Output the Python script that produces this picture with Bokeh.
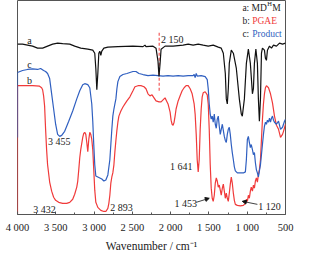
from bokeh.plotting import figure
from bokeh.models import Range1d, FixedTicker, Label, Arrow, NormalHead
from bokeh.embed import file_html
from bokeh.resources import INLINE

# ---- data (wavenumber cm^-1, transmittance a.u.) ----
wn_a = [4000, 3934, 3869, 3803, 3738, 3672, 3607, 3541, 3476, 3410, 3318, 3253, 3174, 3082, 3017,
        2991, 2977, 2964, 2951, 2938, 2925, 2912, 2899, 2872, 2820, 2689, 2492, 2361, 2335, 2322,
        2230, 2191, 2165, 2152, 2138, 2125, 2073, 1968, 1837, 1771, 1706, 1640, 1575, 1509, 1444,
        1378, 1339, 1312, 1286, 1273, 1260, 1247, 1234, 1208, 1181, 1142, 1103, 1077, 1064, 1037,
        1011, 985, 959, 932, 919, 906, 887, 867, 854, 841, 827, 814, 801, 775, 762, 749, 736, 709,
        683, 657, 618, 578, 539, 500]
t_a = [168, 168, 167, 166, 164, 164, 166, 168, 169, 168.5, 168, 166, 164, 163, 162,
       159, 144, 123, 139, 159, 161, 157, 161, 164, 165, 165.5, 166, 165.5, 167, 165.5,
       166, 164, 151, 136, 149, 163, 166, 166, 167, 168, 167, 168, 167, 166, 167,
       165, 164, 159, 139, 114, 109, 124, 149, 162, 159, 144, 114, 99, 97, 114,
       149, 163, 149, 119, 124, 149, 163, 149, 114, 92, 114, 159, 164, 162, 154, 152, 162, 166,
       164, 167, 166, 169, 168, 169]

wn_b = [4000, 4000, 3934, 3803, 3712, 3685, 3672, 3659, 3646, 3633, 3620, 3607, 3580, 3554, 3528,
        3502, 3462, 3410, 3358, 3318, 3279, 3253, 3226, 3213, 3200, 3187, 3174, 3148, 3135, 3122,
        3108, 3095, 3082, 3069, 3056, 3043, 3030, 3017, 3004, 2991, 2977, 2951, 2912, 2872, 2846,
        2820, 2807, 2794, 2781, 2768, 2755, 2741, 2728, 2715, 2702, 2689, 2676, 2650, 2623, 2597,
        2571, 2532, 2492, 2466, 2427, 2388, 2348, 2322, 2296, 2270, 2243, 2217, 2191, 2152, 2125,
        2099, 2073, 2047, 2034, 2007, 1994, 1981, 1968, 1955, 1942, 1929, 1902, 1876, 1850, 1824,
        1798, 1771, 1745, 1719, 1693, 1680, 1666, 1653, 1640, 1627, 1614, 1601, 1588, 1575, 1549,
        1522, 1509, 1496, 1483, 1470, 1457, 1444, 1430, 1417, 1404, 1391, 1378, 1365, 1352, 1339,
        1325, 1312, 1299, 1286, 1273, 1260, 1247, 1234, 1221, 1208, 1195, 1181, 1168, 1155, 1129,
        1090, 1050, 1024, 1011, 998, 985, 972, 959, 947, 932, 919, 906, 893, 880, 867,
        854, 841, 827, 814, 801, 788, 775, 762, 749, 722, 696, 670, 644, 618, 591,
        565, 539, 526, 500]
t_b = [0, 127, 127, 127, 126.5, 125, 123, 117, 107, 84, 64, 49, 32, 23, 17,
       14, 12, 11, 11, 12, 15, 20, 27, 33, 44, 56, 64, 76, 80, 81,
       79, 71, 62, 74, 81, 79, 74, 64, 44, 24, 12, 7, 4, 3, 3,
       6, 11, 19, 31, 37, 41, 49, 62, 73, 83, 91, 97, 102, 106, 109,
       112, 116, 122, 126, 127, 127, 126, 124, 119, 117, 118, 115, 112, 111, 111,
       113, 115, 111, 109, 101, 93, 89, 88, 91, 97, 104, 112, 117, 122, 125,
       127, 127, 124, 119, 109, 99, 79, 54, 42, 54, 84, 104, 116, 120, 121,
       118, 109, 84, 49, 26, 16, 13, 19, 31, 36, 33, 27, 29, 24, 19,
       26, 30, 23, 16, 21, 16, 13, 21, 30, 37, 31, 21, 14, 10, 9,
       8.5, 9, 11, 15, 13, 19, 16, 23, 27, 23, 29, 26, 33, 36, 32,
       39, 44, 54, 74, 94, 109, 119, 125, 127, 125, 119, 110, 97, 88, 84,
       76, 79, 82, 89]

wn_c = [4000, 4000, 3934, 3869, 3803, 3738, 3698, 3659, 3633, 3607, 3580, 3554, 3528, 3502, 3476,
        3449, 3423, 3384, 3331, 3279, 3226, 3187, 3148, 3122, 3082, 3056, 3030, 3017, 3004, 2991,
        2977, 2951, 2925, 2899, 2872, 2846, 2820, 2794, 2781, 2768, 2755, 2741, 2728, 2715, 2702,
        2689, 2663, 2623, 2571, 2532, 2492, 2453, 2414, 2361, 2296, 2230, 2165, 2099, 2034, 1968,
        1902, 1837, 1771, 1706, 1693, 1680, 1666, 1653, 1601, 1549, 1522, 1509, 1496, 1483, 1470,
        1457, 1444, 1430, 1417, 1404, 1391, 1378, 1365, 1352, 1339, 1325, 1312, 1299, 1286, 1273,
        1260, 1247, 1234, 1221, 1208, 1195, 1181, 1168, 1155, 1129, 1090, 1050, 1024, 1011, 998,
        985, 972, 959, 947, 932, 919, 906, 893, 880, 867, 854, 841, 827, 814, 801,
        788, 775, 762, 749, 736, 722, 709, 696, 683, 670, 657, 644, 618, 591, 565,
        539, 526, 513, 500]
t_c = [76, 140, 142, 143, 143.5, 143, 144, 142, 141, 139, 134, 119, 104, 89, 79,
       77, 78, 82, 92, 102, 114, 122, 128, 129, 128, 125, 109, 92, 69, 49,
       38, 37, 36, 35, 33, 34, 39, 54, 69, 84, 97, 104, 109, 114, 124,
       131, 136, 138, 139, 140, 141, 141, 139, 138, 137, 137.5, 137, 136.5, 137, 136.5,
       137, 136.5, 137, 137, 138, 135, 139, 136.5, 137, 136, 133, 124, 109, 99, 94,
       97, 91, 99, 89, 85, 94, 97, 87, 79, 84, 89, 83, 77, 73, 71,
       79, 84, 86, 79, 69, 61, 54, 47, 43, 41, 41, 41, 42, 54, 74,
       77, 71, 66, 69, 64, 59, 61, 51, 44, 41, 37, 43, 49, 59, 69,
       79, 87, 91, 89, 93, 91, 95, 91, 95, 97, 93, 91, 89, 92, 84,
       86, 89, 92, 94]

x_ticks = [4000, 3500, 3000, 2500, 2000, 1500, 1000, 500]
x_tick_labels = ["4 000", "3 500", "3 000", "2 500", "2 000", "1 500", "1 000", "500"]
x_minor = [3750, 3250, 2750, 2250, 1750, 1250, 750]
x_title = "Wavenumber / cm\u207b\u00b9"
marker_wn = 2150

RED = "#f03a3a"
BLUE = "#2f5fc0"
BLACK = "#111111"
FONT = "Liberation Serif"

p = figure(width=294, height=254, output_backend="svg", toolbar_location=None,
           x_range=Range1d(4000, 500), y_range=Range1d(0, 211),
           min_border_left=17, min_border_right=9, min_border_top=0, min_border_bottom=0,
           margin=(0, 0, -14, 0))
p.background_fill_color = "white"
p.border_fill_color = "white"
p.outline_line_color = "#555555"
p.outline_line_width = 1
p.grid.visible = False
p.yaxis.visible = False

ax = p.xaxis[0]
ax.ticker = FixedTicker(ticks=x_ticks, minor_ticks=x_minor)
ax.major_label_overrides = {t: l for t, l in zip(x_ticks, x_tick_labels)}
ax.major_tick_in = 3
ax.major_tick_out = 0
ax.minor_tick_in = 2
ax.minor_tick_out = 0
ax.axis_line_color = "#555555"
ax.major_tick_line_color = "#555555"
ax.minor_tick_line_color = "#555555"
ax.major_label_text_font = FONT
ax.major_label_text_font_size = "10.5px"
ax.major_label_text_color = "#222222"
ax.major_label_standoff = 7
ax.axis_label = x_title
ax.axis_label_text_font = FONT
ax.axis_label_text_font_style = "normal"
ax.axis_label_text_font_size = "11.5px"
ax.axis_label_text_color = "#222222"
ax.axis_label_standoff = 4

# marker line
p.line([marker_wn, marker_wn], [122, 181], line_color=RED, line_width=1, line_dash="3 2")

p.line(wn_b, t_b, line_color=RED, line_width=1.2)
p.line(wn_c, t_c, line_color=BLUE, line_width=1.2)
p.line(wn_a, t_a, line_color=BLACK, line_width=1.2)

def lab(x, y, text, color="#222222", size="10px", align="left", baseline="middle"):
    p.add_layout(Label(x=x, y=y, text=text, text_color=color, text_font=FONT,
                       text_font_size=size, text_align=align, text_baseline=baseline))

lab(3843, 172, "a", align="center")
lab(3843, 148, "c", align="center")
lab(3843, 132, "b", align="center")
lab(2125, 173, "2 150")
lab(3456, 72, "3 455", align="center")
lab(3646, 5, "3 432", align="center")
lab(2643, 7, "2 893", align="center")
lab(1863, 47, "1 641", align="center")
lab(1804, 11, "1 453", align="center")
lab(710, 8, "1 120", align="center")

# legend-like texts
lab(1063, 204, "a: MD", size="9.5px")
lab(738, 208, "H", size="6.5px")
lab(674, 204, "M", size="9.5px")
lab(1063, 191, "b: ", size="9.5px")
lab(935, 191, "PGAE", color=RED, size="9.5px")
lab(1063, 178, "c: ", size="9.5px")
lab(935, 178, "Product", color=BLUE, size="9.5px")

p.add_layout(Arrow(end=NormalHead(size=4, fill_color=BLACK, line_color=BLACK),
                   x_start=1666, y_start=12, x_end=1496, y_end=16,
                   line_color=BLACK, line_width=0.8))
p.add_layout(Arrow(end=NormalHead(size=4, fill_color=BLACK, line_color=BLACK),
                   x_start=867, y_start=10, x_end=1064, y_end=13,
                   line_color=BLACK, line_width=0.8))

open("out.html", "w").write(file_html(p, INLINE))
